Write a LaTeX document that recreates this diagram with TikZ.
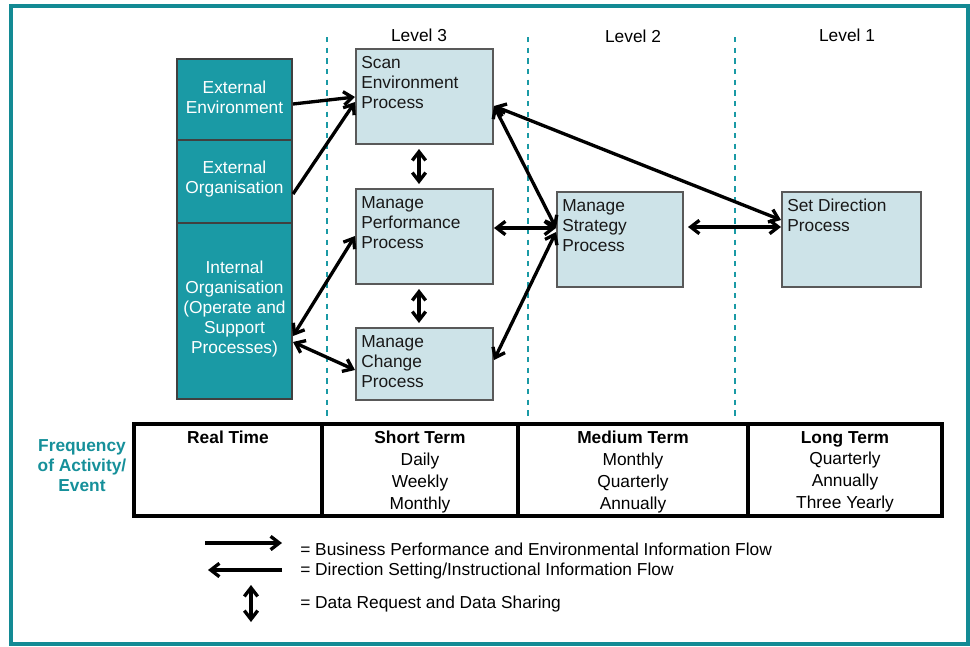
\documentclass[tikz,border=0pt]{standalone}
\usepackage{fontspec}
\setmainfont{Liberation Sans}
\usetikzlibrary{arrows.meta,fit}

\definecolor{frameteal}{HTML}{138A94}
\definecolor{boxteal}{HTML}{1A9AA5}
\definecolor{paleblue}{HTML}{CDE3E8}
\definecolor{labelteal}{HTML}{16909A}

\tikzset{
  every node/.style={font=\fontsize{13pt}{15pt}\selectfont},
  extbox/.style={draw=black!75, line width=1.5, fill=boxteal, inner sep=0pt},
  exttext/.style={text=white, align=center, inner sep=0pt},
  procbox/.style={draw=black!65, line width=1.5, fill=paleblue, inner sep=0pt},
  proctext/.style={anchor=north west, align=left, inner sep=0pt, text=black!90},
  divider/.style={draw=boxteal, line width=2, dash pattern=on 4 off 4},
  flow/.style={draw=black, line width=2.5, -{Straight Barb[length=6.5pt,width=10pt]}},
  both/.style={draw=black, line width=2.5, {Straight Barb[length=6.5pt,width=10pt]}-{Straight Barb[length=6.5pt,width=10pt]}},
  cell/.style={anchor=north, align=center, inner sep=0pt,
    font=\fontsize{13pt}{16.3pt}\selectfont},
  legendtext/.style={anchor=west, inner sep=0pt},
}

\begin{document}
\begin{tikzpicture}[x=0.75pt,y=-0.75pt]
\useasboundingbox (0,0) rectangle (970,646);

% outer frame
\draw[frameteal, line width=3] (11,6) rectangle (968,644);

% swim-lane dividers
\draw[divider] (327,37) -- (327,416);
\draw[divider] (528,37) -- (528,416);
\draw[divider] (735,37) -- (735,416);

% level headings
\node (lv3) at (419,35) {Level 3};
\node (lv2) at (633,36) {Level 2};
\node (lv1) at (847,35) {Level 1};

% environment / organisation column
\node[extbox, fit={(177,59)(292,140)}] (extenv) {};
\node[exttext] at ([shift={(0,-2)}]extenv.center) {External\\Environment};
\node[extbox, fit={(177,140)(292,223)}] (extorg) {};
\node[exttext] at ([shift={(0,-2)}]extorg.center) {External\\Organisation};
\node[extbox, fit={(177,223)(292,399)}] (internal) {};
\node[exttext] at ([shift={(0,-2)}]internal.center) {Internal\\Organisation\\(Operate and\\Support\\Processes)};

% process boxes
\node[procbox, fit={(356,49)(493,144)}] (scan) {};
\node[proctext] at ([shift={(6,8)}]scan.north west) {Scan\\Environment\\Process};
\node[procbox, fit={(356,189)(493,284)}] (perf) {};
\node[proctext] at ([shift={(6,8)}]perf.north west) {Manage\\Performance\\Process};
\node[procbox, fit={(356,328)(493,400)}] (change) {};
\node[proctext] at ([shift={(6,8)}]change.north west) {Manage\\Change\\Process};
\node[procbox, fit={(557,192)(683,287)}] (strategy) {};
\node[proctext] at ([shift={(6,8)}]strategy.north west) {Manage\\Strategy\\Process};
\node[procbox, fit={(782,192)(921,287)}] (setdir) {};
\node[proctext] at ([shift={(6,8)}]setdir.north west) {Set Direction\\Process};

% information flows
\draw[flow] (extenv.east |- 0,104) -- (scan.west |- 0,97);
\draw[flow] (extorg.east |- 0,194) -- (scan.west |- 0,102);
\draw[both] (internal.east |- 0,336) -- (perf.west |- 0,236);
\draw[both] (internal.east |- 0,342) -- (change.west |- 0,370);
\draw[both, shorten <=3, shorten >=3] (scan.south -| 419,0) -- (perf.north -| 419,0);
\draw[both, shorten <=3, shorten >=3] (perf.south -| 419,0) -- (change.north -| 419,0);
\draw[both] (scan.east |- 0,106) -- (strategy.west |- 0,228);
\draw[both] (scan.east |- 0,106) -- (setdir.west |- 0,220);
\draw[both] (perf.east |- 0,228) -- (strategy.west |- 0,228);
\draw[both] (change.east |- 0,360) -- (strategy.west |- 0,232);
\draw[both, shorten <=3] (strategy.east |- 0,227) -- (setdir.west |- 0,227);

% frequency table
\node[text=labelteal, font=\bfseries\fontsize{13pt}{15pt}\selectfont, align=center] (freq) at (82,466) {Frequency\\of Activity/\\Event};
\draw[line width=3] (134,424) rectangle (942,516);
\draw[line width=3] (322,424) -- (322,516);
\draw[line width=3] (518,424) -- (518,516);
\draw[line width=3] (748,424) -- (748,516);
\node[cell] (realtime) at (228,431) {\textbf{Real Time}};
\node[cell] (short) at (420,431) {\textbf{Short Term}\\Daily\\Weekly\\Monthly};
\node[cell] (medium) at (633,431) {\textbf{Medium Term}\\Monthly\\Quarterly\\Annually};
\node[cell] (long) at (845,431) {\textbf{Long Term}\\Quarterly\\Annually\\Three Yearly};

% legend
\coordinate (l1a) at (205,543);
\coordinate (l1b) at (282,543);
\coordinate (l2a) at (282,570);
\coordinate (l2b) at (208,570);
\coordinate (l3a) at (251,585);
\coordinate (l3b) at (251,622);
\draw[flow] (l1a) -- (l1b);
\draw[flow] (l2a) -- (l2b);
\draw[both] (l3a) -- (l3b);
\node[legendtext] (leg1) at (300,549) {= Business Performance and Environmental Information Flow};
\node[legendtext] (leg2) at (300,571) {= Direction Setting/Instructional Information Flow};
\node[legendtext] (leg3) at (300,604) {= Data Request and Data Sharing};
\end{tikzpicture}
\end{document}
